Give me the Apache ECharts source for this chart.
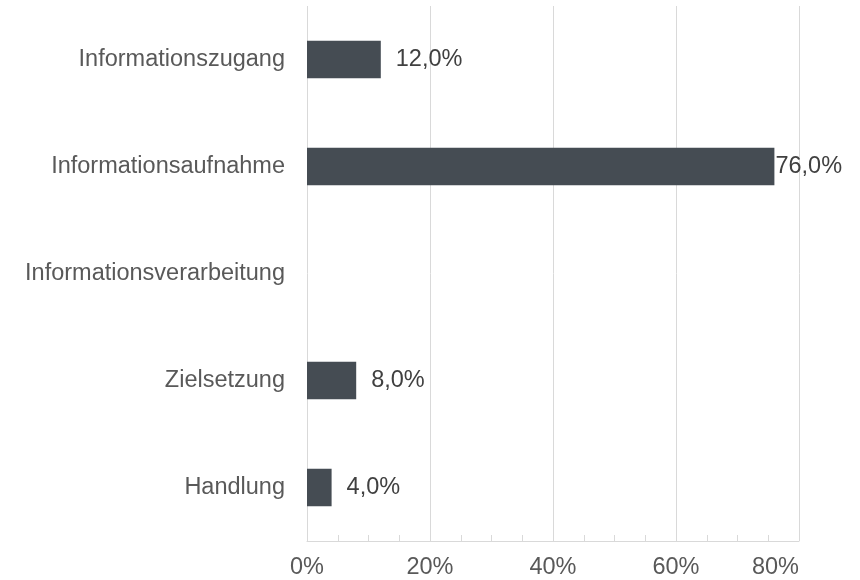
<!DOCTYPE html>
<html><head><meta charset="utf-8">
<script src="https://cdn.jsdelivr.net/npm/echarts@6/dist/echarts.min.js"></script>
<style>html,body{margin:0;padding:0;background:#fff}#c{width:860px;height:580px}</style>
</head><body><div id="c"></div>
<script>
var categories = ["Informationszugang","Informationsaufnahme","Informationsverarbeitung","Zielsetzung","Handlung"];
var values = [12.0, 76.0, 0, 8.0, 4.0];
var labelGap = [15, 1, 15, 15, 15];

var chart = echarts.init(document.getElementById('c'));
chart.setOption({
  animation: false,
  grid: {left: 307, right: 61, top: 6, bottom: 39, containLabel: false},
  xAxis: {
    type: 'value', min: 0, max: 80, interval: 20,
    axisLine: {show: true, lineStyle: {color: '#d9d9d9', width: 1}},
    axisTick: {show: false},
    minorTick: {show: true, splitNumber: 4, length: -6, lineStyle: {color: '#d9d9d9'}},
    splitLine: {show: true, lineStyle: {color: '#d9d9d9', width: 1}},
    axisLabel: {formatter: '{value}%', color: '#595959', fontFamily: 'Liberation Sans, Arial', fontSize: 23.5, margin: 15, alignMaxLabel: 'right'}
  },
  yAxis: {
    type: 'category', data: categories, inverse: true,
    axisLine: {show: false}, axisTick: {show: false},
    axisLabel: {color: '#595959', fontFamily: 'Liberation Sans, Arial', fontSize: 23.5, margin: 22}
  },
  series: [{
    type: 'bar',
    data: values.map(function(v, i){ return {value: v, label: {distance: labelGap[i]}}; }),
    barWidth: '35%',
    itemStyle: {color: '#454c53'},
    label: {show: true, position: 'right', color: '#404040', fontFamily: 'Liberation Sans, Arial', fontSize: 23.5,
      formatter: function(p){ return p.value ? p.value.toFixed(1).replace('.', ',') + '%' : ''; }}
  }]
});
</script></body></html>
